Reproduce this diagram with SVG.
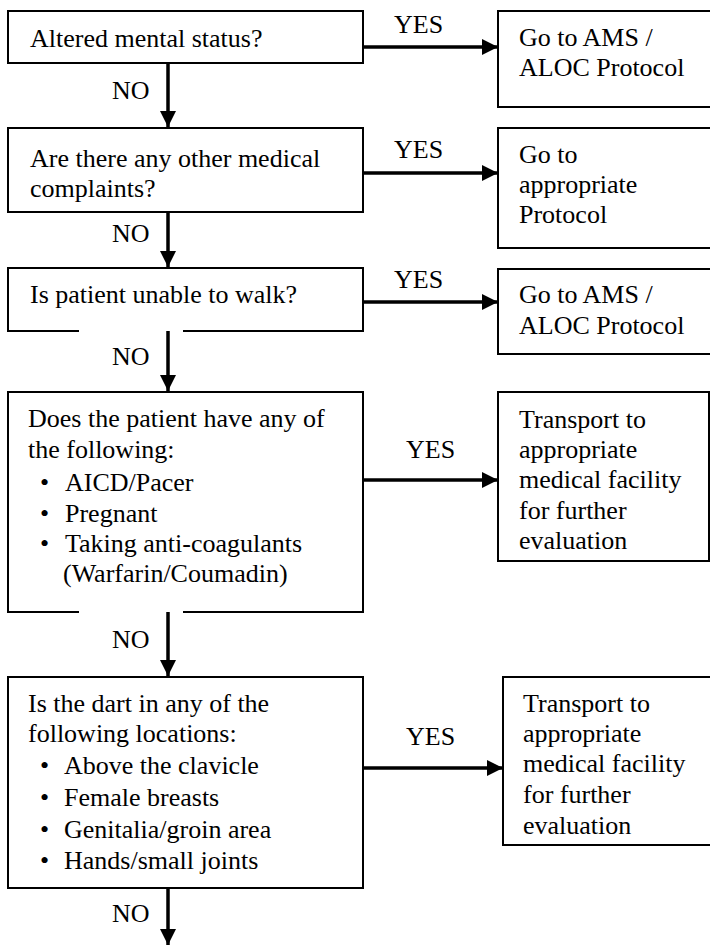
<svg xmlns="http://www.w3.org/2000/svg" width="710" height="946" viewBox="0 0 710 946" font-family="Liberation Serif, Times New Roman, Tinos, Noto Serif, DejaVu Serif, Times, serif">
  <style>
    .box { fill: #ffffff; stroke: #000000; stroke-width: 2; }
    text { font-family: "Liberation Serif", "Times New Roman", Tinos, "Noto Serif", "DejaVu Serif", Times, serif; font-size: 26px; fill: #000000; }
    .link { stroke: #000000; stroke-width: 3.5; fill: none; }
    .gap { fill: #ffffff; stroke: none; }
  </style>
  <defs>
    <marker id="arrow" viewBox="0 0 16 16" refX="16" refY="8" markerWidth="16" markerHeight="16" markerUnits="userSpaceOnUse" orient="auto">
      <path d="M0,0 L16,8 L0,16 Z" fill="#000000"/>
    </marker>
  </defs>
  <rect width="710" height="946" fill="#ffffff"/>

  <!-- Decision nodes -->
  <g id="q-ams">
    <rect class="box" x="8" y="11" width="355" height="52"/>
    <text x="30" y="47">Altered mental status?</text>
  </g>
  <g id="q-complaints">
    <rect class="box" x="8" y="128" width="355" height="84"/>
    <text x="30" y="167">Are there any other medical</text>
    <text x="30" y="197">complaints?</text>
  </g>
  <g id="q-walk">
    <rect class="box" x="8" y="268" width="355" height="63"/>
    <rect class="gap" x="79" y="329" width="104" height="4"/>
    <text x="30" y="303">Is patient unable to walk?</text>
  </g>
  <g id="q-conditions">
    <rect class="box" x="8" y="392" width="355" height="220"/>
    <rect class="gap" x="79" y="610" width="104" height="4"/>
    <text x="28" y="427">Does the patient have any of</text>
    <text x="28" y="458">the following:</text>
    <text x="40" y="491">•</text>
    <text x="65" y="491">AICD/Pacer</text>
    <text x="40" y="522">•</text>
    <text x="65" y="522">Pregnant</text>
    <text x="40" y="552">•</text>
    <text x="65" y="552">Taking anti-coagulants</text>
    <text x="63" y="582">(Warfarin/Coumadin)</text>
  </g>
  <g id="q-dart">
    <rect class="box" x="8" y="677" width="355" height="211"/>
    <text x="28" y="712">Is the dart in any of the</text>
    <text x="28" y="742">following locations:</text>
    <text x="40" y="774">•</text>
    <text x="64" y="774">Above the clavicle</text>
    <text x="40" y="806">•</text>
    <text x="64" y="806">Female breasts</text>
    <text x="40" y="838">•</text>
    <text x="64" y="838">Genitalia/groin area</text>
    <text x="40" y="869">•</text>
    <text x="64" y="869">Hands/small joints</text>
  </g>

  <!-- Outcome nodes -->
  <g id="a-ams-1">
    <rect class="box" x="498" y="11" width="216" height="96"/>
    <text x="519" y="46">Go to AMS /</text>
    <text x="519" y="76">ALOC Protocol</text>
  </g>
  <g id="a-protocol">
    <rect class="box" x="498" y="128" width="216" height="120"/>
    <text x="519" y="163">Go to</text>
    <text x="519" y="193">appropriate</text>
    <text x="519" y="223">Protocol</text>
  </g>
  <g id="a-ams-2">
    <rect class="box" x="498" y="269" width="216" height="85"/>
    <text x="519" y="303">Go to AMS /</text>
    <text x="519" y="334">ALOC Protocol</text>
  </g>
  <g id="a-transport-1">
    <rect class="box" x="498" y="392" width="211" height="169"/>
    <text x="519" y="428">Transport to</text>
    <text x="519" y="458">appropriate</text>
    <text x="519" y="488">medical facility</text>
    <text x="519" y="519">for further</text>
    <text x="519" y="549">evaluation</text>
  </g>
  <g id="a-transport-2">
    <rect class="box" x="503" y="677" width="211" height="168"/>
    <text x="523" y="712">Transport to</text>
    <text x="523" y="742">appropriate</text>
    <text x="523" y="772">medical facility</text>
    <text x="523" y="803">for further</text>
    <text x="523" y="834">evaluation</text>
  </g>

  <!-- Connectors -->
  <g id="connectors">
    <line class="link" x1="363" y1="47" x2="498" y2="47" marker-end="url(#arrow)"/>
    <line class="link" x1="363" y1="173" x2="498" y2="173" marker-end="url(#arrow)"/>
    <line class="link" x1="363" y1="302" x2="498" y2="302" marker-end="url(#arrow)"/>
    <line class="link" x1="363" y1="480" x2="498" y2="480" marker-end="url(#arrow)"/>
    <line class="link" x1="363" y1="768" x2="503" y2="768" marker-end="url(#arrow)"/>

    <line class="link" x1="168" y1="63" x2="168" y2="127" marker-end="url(#arrow)"/>
    <line class="link" x1="168" y1="212" x2="168" y2="267" marker-end="url(#arrow)"/>
    <line class="link" x1="168" y1="331" x2="168" y2="391" marker-end="url(#arrow)"/>
    <line class="link" x1="168" y1="612" x2="168" y2="676" marker-end="url(#arrow)"/>
    <line class="link" x1="168" y1="888" x2="168" y2="945" marker-end="url(#arrow)"/>

    <text x="394" y="33">YES</text>
    <text x="394" y="158">YES</text>
    <text x="394" y="288">YES</text>
    <text x="406" y="458">YES</text>
    <text x="406" y="745">YES</text>

    <text x="112" y="99">NO</text>
    <text x="112" y="242">NO</text>
    <text x="112" y="365">NO</text>
    <text x="112" y="648">NO</text>
    <text x="112" y="922">NO</text>
  </g>
</svg>
